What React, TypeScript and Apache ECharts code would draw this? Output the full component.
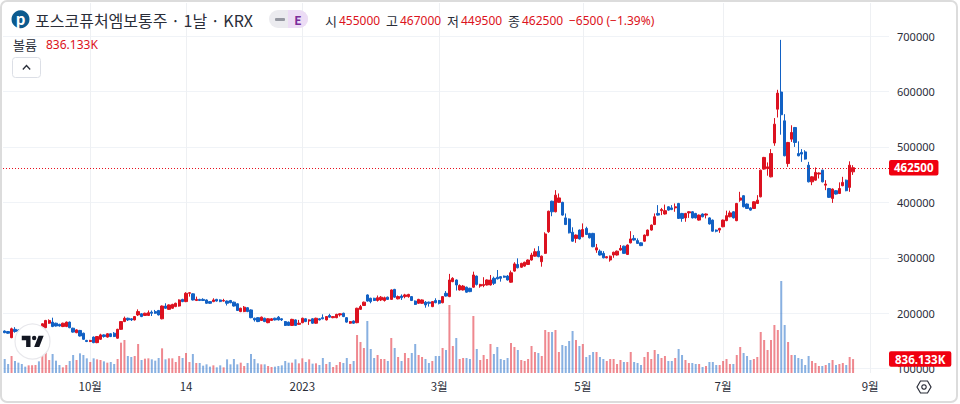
import React, { useEffect, useRef } from "react";
import * as echarts from "echarts";

// prices in thousands of won
const opens = [
168,167,156,171,170,169,169,167,170,171,
174,175,174,182,184,182,180,176,176,184,
173,165,169,164,151,149,157,147,153,161,
157,163,164,155,171,185,191,190,188,197,
199,196,196,202,203,205,190,213,207,209,
212,213,225,221,236,235,223,225,225,224,
221,221,225,224,222,222,223,220,217,203,
203,210,206,191,192,187,191,183,187,191,
193,190,185,184,178,188,180,183,190,186,
190,182,190,192,188,196,192,192,197,200,
192,182,186,183,207,214,233,227,227,223,
224,223,229,225,243,226,231,230,230,230,
222,218,218,220,220,212,223,223,219,236,
230,257,260,242,242,247,245,247,267,249,
250,251,251,263,265,266,267,267,256,276,
288,283,285,288,296,303,312,293,308,347,
402,383,400,400,372,370,346,335,350,338,
353,344,344,314,312,308,300,296,305,305,
314,321,306,327,335,331,327,330,340,350,
360,380,385,379,392,390,390,398,380,372,
381,383,380,368,379,377,372,368,350,350,
356,367,374,383,367,404,412,397,390,389,
398,410,460,461,446,507,568,599,547,470,
514,535,488,490,491,467,437,440,451,458,
431,425,407,421,416,430,440,427,455];
const closes = [
165,164,172,167,167,167,167,170,172,173,
172,181,187,187,176,177,177,182,184,174,
166,170,159,153,149,151,147,158,161,158,
163,158,158,171,185,191,188,188,194,203,
194,200,201,200,200,197,213,209,215,216,
218,224,221,236,237,224,225,223,223,218,
218,224,222,221,223,218,219,213,205,209,
211,203,192,188,185,193,185,190,190,188,
188,188,178,178,189,178,182,191,185,188,
182,191,188,190,194,193,194,198,199,194,
184,185,182,209,212,220,222,221,223,228,
229,228,225,242,229,230,228,233,234,223,
216,225,224,215,218,221,219,218,230,231,
260,263,251,250,249,238,239,269,252,252,
252,260,260,254,262,263,265,260,273,289,
282,290,292,296,305,311,302,303,343,384,
383,413,408,377,360,345,330,341,334,351,
342,336,320,318,305,300,302,303,310,312,
317,308,323,334,332,326,322,341,350,359,
374,377,387,385,386,387,392,371,371,380,
383,372,372,377,374,379,361,348,348,353,
368,376,381,372,398,408,392,389,386,401,
404,458,481,464,488,541,597,558,484,508,
526,508,484,487,478,437,446,454,453,437,
433,409,424,415,425,436,421,467,462.5];
const lows = [
164,163,155,165,166,166,166,166,169,170,
171,174,173,181,175,176,176,175,175,173,
165,164,158,152,148,148,146,146,152,156,
156,157,157,154,170,184,186,186,187,195,
193,195,195,195,199,196,189,208,206,208,
211,212,220,220,230,223,222,222,222,217,
217,220,221,220,221,214,218,212,204,202,
202,202,191,185,184,186,184,182,186,187,
187,186,177,177,177,177,179,182,184,179,
181,181,187,189,187,192,191,191,194,193,
183,181,181,182,206,213,221,218,222,221,
222,221,224,224,228,225,224,227,228,222,
215,217,217,210,212,211,218,216,218,230,
229,256,241,241,241,237,238,246,250,246,
247,250,250,251,261,257,264,259,255,275,
281,282,284,287,295,302,301,284,307,345,
375,382,399,376,359,344,329,327,333,337,
341,335,319,309,304,299,299,293,300,304,
313,307,305,326,331,325,321,329,339,349,
359,376,377,378,385,386,383,370,365,365,
372,371,371,367,373,371,360,347,346,345,
355,366,373,371,366,401,391,388,385,388,
397,409,459,448,445,502,553,522,483,464,
509,500,483,473,477,436,431,439,443,436,
422,408,399,414,415,429,420,419,449.5];
const highs = [
169,168,174,175,171,170,170,171,173,174,
175,182,188,189,192,183,181,183,185,185,
174,171,170,165,152,152,158,159,163,162,
164,164,166,172,186,194,192,191,195,207,
200,201,205,205,206,206,214,218,216,217,
219,225,226,238,238,236,230,226,227,225,
222,227,226,225,226,223,224,221,218,210,
213,211,207,192,193,194,192,191,191,192,
195,191,186,185,190,189,188,192,191,189,
191,192,191,198,195,199,195,199,200,201,
193,186,187,210,215,221,234,228,228,232,
231,230,230,243,244,232,234,235,235,231,
223,226,225,222,221,222,227,224,231,240,
271,265,261,252,251,248,246,275,268,253,
265,261,269,266,278,267,268,269,277,292,
299,291,293,297,309,317,321,304,346,385,
403,422,416,401,380,371,355,342,351,362,
356,345,345,325,315,312,303,304,311,313,
323,322,324,348,341,335,328,342,351,360,
380,395,390,396,393,395,398,399,381,381,
384,384,381,378,380,380,373,369,351,354,
369,385,385,384,399,419,413,398,391,402,
413,459,482,472,496,552,603,693,559,509,
539,536,510,496,494,473,447,463,454,459,
440,426,425,422,436,446,441,474,467];
// volume in thousands
const volumes = [
840,540,1020,720,620,540,380,460,460,480,
700,1060,1240,780,1140,740,480,340,480,720,
1080,780,1180,1080,880,660,880,820,780,700,
620,660,540,840,1820,1980,1020,960,1020,1740,
780,860,880,820,740,900,1480,820,880,880,
660,1020,900,1200,660,1140,600,600,440,520,
380,460,340,460,340,820,520,840,520,620,
420,600,1140,840,580,520,520,420,360,380,
420,460,720,620,620,820,580,880,660,820,
560,580,480,900,540,660,360,480,660,600,
900,540,720,2280,1860,1500,3120,1440,900,1080,
840,840,720,2100,1500,960,720,1200,900,1200,
1740,1080,960,840,600,720,1020,1020,1500,1380,
4080,1620,2100,840,900,900,840,3420,1440,780,
1080,840,1740,1140,1560,840,780,900,1800,1560,
1380,780,720,840,1620,1260,1200,1020,2580,2460,
2460,2580,1260,1680,1620,1920,2520,1980,1620,1740,
960,1080,1260,1260,960,840,720,840,840,540,
780,660,660,1260,660,600,480,960,1260,840,
1380,1140,900,1020,720,720,900,1440,1080,780,
600,600,540,540,360,420,660,660,480,480,
720,840,540,540,1080,1560,1200,1020,780,840,
960,2460,1980,1380,1980,2880,2580,5520,2880,1860,
1080,1080,900,840,480,1020,720,600,420,420,
480,600,780,480,540,600,480,960,836.133];

const slotCount = 259;
const tickIndices = [25, 53, 87, 127, 169, 210, 253];
const tickLabels = ["10월", "14", "2023", "3월", "5월", "7월", "9월"];
const stockTitle = "포스코퓨처엠보통주 · 1날 · KRX";
const ohlcLabels = ["시", "고", "저", "종"];
const ohlcValues = ["455000", "467000", "449500", "462500"];
const changeText = "−6500 (−1.39%)";
const volumeName = "볼륨";
const volumeText = "836.133K";

const UP = "#dc1220";
const DOWN = "#1261c4";
const UP_VOL = "rgba(224,18,31,0.5)";
const DOWN_VOL = "rgba(18,97,196,0.5)";
const GRID = "#f0f3f7";
const TEXT = "#2a2e39";
const FONT = "'Noto Sans','Noto Sans CJK KR',sans-serif";
const KR = "'Noto Sans CJK KR','Noto Sans',sans-serif";

echarts.graphic.registerShape(
  "tvlogo",
  echarts.graphic.extendPath(
    "M14 6H2v6h6v9h6V6zm12 15h-7l6-15h7l-6 15zm-7-9a3 3 0 1 0 0-6 3 3 0 0 0 0 6z",
    {}
  )
);

const categories = Array.from({ length: slotCount }, (_, i) => String(i));
const isTick = (i: number) => tickIndices.includes(i);

function txt(text: string, x: number, y: number, fill: string, fontSize: number, extra: any = {}) {
  return {
    type: "text",
    x,
    y,
    z: 100,
    silent: true,
    style: { text, fill, fontSize, fontFamily: KR, textVerticalAlign: "middle", verticalAlign: "middle", ...extra },
  };
}

export default function App() {
  const ref = useRef<HTMLDivElement>(null);
  useEffect(() => {
    const chart = echarts.init(ref.current!, null, { renderer: "svg" });
    const candles = opens.map((o, i) => [o * 1000, closes[i] * 1000, lows[i] * 1000, highs[i] * 1000]);
    const volBars = volumes.map((v, i) => ({
      value: v,
      itemStyle: { color: closes[i] >= opens[i] ? UP_VOL : DOWN_VOL },
    }));
    const last = closes.length - 1;
    const lastPrice = closes[last] * 1000;
    const ohlcX = [[325, 339], [386, 400], [447, 461], [508, 522]];

    const graphic: any[] = [
      // frame
      { type: "rect", z: 99, silent: true, shape: { x: 1, y: 1, width: 956, height: 401, r: 6 }, style: { fill: "none", stroke: "#dcdcdc", lineWidth: 2 } },
      // logo
      { type: "circle", z: 100, silent: true, shape: { cx: 20.5, cy: 19.3, r: 9 }, style: { fill: "#0b5a8f" } },
      txt("p", 20.5, 18.5, "#ffffff", 15, { textAlign: "center", fontWeight: "bold" }),
      txt(stockTitle, 35, 19.5, "#2a2e39", 16),
      // badge
      { type: "rect", z: 100, silent: true, shape: { x: 269, y: 10, width: 39, height: 18, r: 9 }, style: { fill: "#ebebef" } },
      { type: "rect", z: 100, silent: true, shape: { x: 288, y: 10, width: 20, height: 18, r: [0, 9, 9, 0] }, style: { fill: "#ecdcf5" } },
      { type: "rect", z: 101, silent: true, shape: { x: 275, y: 18, width: 10, height: 3, r: 1 }, style: { fill: "#9598a1" } },
      txt("E", 298, 19.5, "#7b2d9b", 12, { textAlign: "center", fontWeight: "bold" }),
      // volume legend
      txt(volumeName, 13, 44, "#2a2e39", 13),
      txt(volumeText, 46, 44, UP, 12, { fontFamily: FONT }),
      // collapse button
      { type: "rect", z: 100, silent: true, shape: { x: 12.5, y: 57.5, width: 28, height: 20, r: 3 }, style: { fill: "#fff", stroke: "#dcdfe6", lineWidth: 1 } },
      { type: "polyline", z: 101, silent: true, shape: { points: [[22.8, 69.5], [26.5, 65.5], [30.2, 69.5]] }, style: { fill: "none", stroke: "#2a2e39", lineWidth: 1.3 } },
      // watermark
      { type: "circle", z: 100, silent: true, shape: { cx: 32.5, cy: 341.5, r: 17.5 }, style: { fill: "#fff", stroke: "#e8e8ec", lineWidth: 1.2 } },
      { type: "tvlogo", z: 101, silent: true, x: 20.3, y: 331.2, scaleX: 0.73, scaleY: 0.75, style: { fill: "#131722" } },
      // settings icon
      { type: "polygon", z: 100, silent: true, shape: { points: [[917, 387], [920.5, 381], [927.5, 381], [931, 387], [927.5, 393], [920.5, 393]] }, style: { fill: "none", stroke: "#2a2e39", lineWidth: 1.2 } },
      { type: "circle", z: 100, silent: true, shape: { cx: 924, cy: 387, r: 2.2 }, style: { fill: "none", stroke: "#2a2e39", lineWidth: 1.2 } },
      txt(changeText, 569, 20, UP, 12, { fontFamily: FONT }),
    ];
    ohlcLabels.forEach((l, i) => {
      graphic.push(txt(l, ohlcX[i][0], 20, "#2a2e39", 13));
      graphic.push(txt(ohlcValues[i], ohlcX[i][1], 20, UP, 12, { fontFamily: FONT }));
    });

    chart.setOption({
      animation: false,
      backgroundColor: "#fff",
      grid: [
        { left: 3, width: 886, top: 3, height: 370 },
        { left: 3, width: 886, top: 36, height: 332.7 },
      ],
      xAxis: [
        {
          type: "category",
          gridIndex: 0,
          data: categories,
          axisLine: { show: false },
          axisTick: { show: false, alignWithLabel: true },
          splitLine: { show: true, interval: (i: number) => isTick(i), alignWithLabel: true, lineStyle: { color: "#eef0f3", width: 1 } },
          axisLabel: {
            interval: (i: number) => isTick(i),
            formatter: (_: string, i: number) => tickLabels[tickIndices.indexOf(i)] ?? "",
            color: TEXT,
            fontSize: 11.5,
            fontFamily: KR,
            margin: 7,
          },
        },
        { type: "category", gridIndex: 1, data: categories, show: false },
      ],
      yAxis: [
        { type: "value", gridIndex: 0, min: 0, max: 22200, show: false, splitLine: { show: false } },
        {
          type: "value",
          gridIndex: 1,
          position: "right",
          min: 100000,
          max: 700000,
          interval: 100000,
          axisLine: { show: false },
          axisTick: { show: false },
          splitLine: { show: true, lineStyle: { color: GRID, width: 1 } },
          axisLabel: { color: TEXT, fontSize: 11, fontFamily: FONT, margin: 8, formatter: (v: number) => String(v) },
        },
      ],
      series: [
        {
          type: "bar",
          xAxisIndex: 0,
          yAxisIndex: 0,
          data: volBars,
          barWidth: 2,
          z: 2,
          markLine: {
            symbol: "none",
            silent: true,
            z: 10,
            lineStyle: { color: "rgba(0,0,0,0)", width: 0 },
            data: [{ yAxis: volumes[last] }],
            label: {
              position: "end",
              distance: 0,
              opacity: 1,
              formatter: volumeText,
              color: "#fff",
              fontSize: 11.5,
              fontWeight: "bold",
              fontFamily: FONT,
              backgroundColor: "#f0000f",
              padding: [2, 6, 2, 6],
              borderRadius: 2,
            },
          },
        },
        {
          type: "candlestick",
          xAxisIndex: 1,
          yAxisIndex: 1,
          data: candles,
          barWidth: 2.8,
          clip: false,
          itemStyle: { color: UP, color0: DOWN, borderColor: UP, borderColor0: DOWN, borderWidth: 1 },
          markLine: {
            symbol: "none",
            silent: true,
            lineStyle: { color: "rgba(0,0,0,0)", width: 0 },
            data: [{ yAxis: lastPrice }],
            label: {
              position: "end",
              distance: 0,
              opacity: 1,
              formatter: String(lastPrice),
              color: "#fff",
              fontSize: 11.5,
              fontWeight: "bold",
              fontFamily: FONT,
              backgroundColor: "#f0000f",
              padding: [2, 5, 2, 5],
              borderRadius: 2,
            },
          },
        },
      ],
      graphic: { elements: graphic },
    });

    // dotted last-price line, placed through the price axis
    const priceY = chart.convertToPixel({ yAxisIndex: 1 }, lastPrice) as number;
    const lineY = Math.round(priceY) + 0.5;
    chart.setOption({
      graphic: {
        elements: [
          ...graphic,
          {
            type: "line",
            z: 50,
            silent: true,
            shape: { x1: 3, y1: lineY, x2: 889, y2: lineY },
            style: { stroke: "#e8101e", lineWidth: 1, lineDash: [1, 2] },
          },
        ],
      },
    });
    return () => chart.dispose();
  }, []);
  return (
    <div style={{ position: "fixed", left: 0, top: 0, width: 960, height: 404, background: "#fff" }}>
      <div ref={ref} style={{ width: 960, height: 404 }} />
    </div>
  );
}
